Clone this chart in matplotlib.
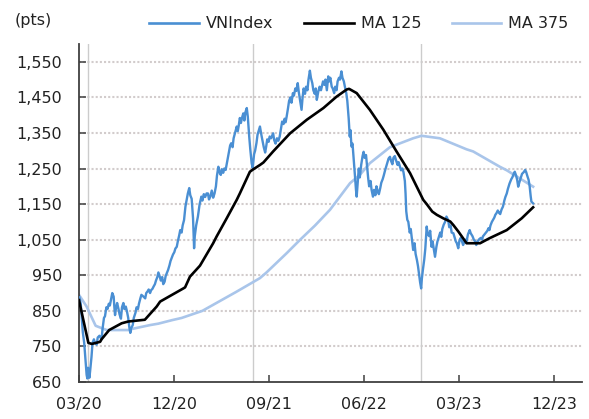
import matplotlib
matplotlib.use("Agg")
import matplotlib.pyplot as plt
import pandas as pd
from matplotlib.ticker import FuncFormatter, FixedLocator
from matplotlib.lines import Line2D

plt.rcParams['font.family'] = ['DejaVu Sans']

# ---------------- data ----------------
vnindex = [
    ("2020-03-02", 888), ("2020-03-06", 870), ("2020-03-09", 830), ("2020-03-12", 790),
    ("2020-03-16", 760), ("2020-03-19", 720), ("2020-03-23", 670), ("2020-03-25", 660),
    ("2020-03-27", 690), ("2020-03-31", 662), ("2020-04-02", 680), ("2020-04-06", 720),
    ("2020-04-09", 760), ("2020-04-13", 770), ("2020-04-16", 760), ("2020-04-21", 755),
    ("2020-04-24", 775), ("2020-04-29", 780), ("2020-05-05", 770), ("2020-05-08", 800),
    ("2020-05-12", 830), ("2020-05-15", 835), ("2020-05-19", 860), ("2020-05-22", 855),
    ("2020-05-26", 870), ("2020-05-29", 865), ("2020-06-02", 885), ("2020-06-05", 900),
    ("2020-06-09", 890), ("2020-06-11", 860), ("2020-06-13", 838), ("2020-06-16", 860),
    ("2020-06-19", 872), ("2020-06-23", 855), ("2020-06-26", 840), ("2020-06-30", 828),
    ("2020-07-03", 860), ("2020-07-07", 872), ("2020-07-10", 855), ("2020-07-14", 862),
    ("2020-07-17", 850), ("2020-07-21", 830), ("2020-07-24", 805), ("2020-07-27", 788),
    ("2020-07-29", 800), ("2020-08-03", 810), ("2020-08-06", 830), ("2020-08-11", 845),
    ("2020-08-14", 860), ("2020-08-18", 855), ("2020-08-21", 870), ("2020-08-25", 885),
    ("2020-08-28", 895), ("2020-09-03", 890), ("2020-09-08", 885), ("2020-09-11", 900),
    ("2020-09-15", 905), ("2020-09-18", 910), ("2020-09-22", 900), ("2020-09-25", 908),
    ("2020-09-29", 912), ("2020-10-02", 918), ("2020-10-06", 925), ("2020-10-09", 935),
    ("2020-10-13", 945), ("2020-10-16", 958), ("2020-10-20", 946), ("2020-10-23", 935),
    ("2020-10-27", 945), ("2020-10-30", 925), ("2020-11-03", 932), ("2020-11-06", 948),
    ("2020-11-10", 958), ("2020-11-13", 965), ("2020-11-17", 978), ("2020-11-20", 990),
    ("2020-11-24", 1000), ("2020-11-27", 1008), ("2020-12-01", 1015), ("2020-12-04", 1025),
    ("2020-12-08", 1030), ("2020-12-11", 1045), ("2020-12-15", 1062), ("2020-12-18", 1077),
    ("2020-12-22", 1070), ("2020-12-25", 1090), ("2020-12-29", 1105), ("2021-01-02", 1143),
    ("2021-01-06", 1165), ("2021-01-09", 1180), ("2021-01-13", 1195), ("2021-01-16", 1175),
    ("2021-01-20", 1165), ("2021-01-24", 1110), ("2021-01-27", 1026), ("2021-01-29", 1060),
    ("2021-02-02", 1090), ("2021-02-07", 1115), ("2021-02-12", 1150), ("2021-02-17", 1171),
    ("2021-02-20", 1160), ("2021-02-24", 1178), ("2021-02-28", 1170), ("2021-03-04", 1180),
    ("2021-03-08", 1180), ("2021-03-11", 1163), ("2021-03-15", 1172), ("2021-03-19", 1188),
    ("2021-03-23", 1168), ("2021-03-27", 1180), ("2021-03-31", 1200), ("2021-04-03", 1230),
    ("2021-04-07", 1255), ("2021-04-10", 1240), ("2021-04-14", 1232), ("2021-04-17", 1248),
    ("2021-04-21", 1238), ("2021-04-24", 1250), ("2021-04-28", 1246), ("2021-05-01", 1262),
    ("2021-05-05", 1285), ("2021-05-08", 1300), ("2021-05-11", 1315), ("2021-05-14", 1321),
    ("2021-05-18", 1310), ("2021-05-21", 1335), ("2021-05-25", 1350), ("2021-05-30", 1368),
    ("2021-06-02", 1355), ("2021-06-05", 1372), ("2021-06-08", 1392), ("2021-06-11", 1378),
    ("2021-06-15", 1395), ("2021-06-18", 1405), ("2021-06-21", 1385), ("2021-06-24", 1408),
    ("2021-06-28", 1420), ("2021-07-01", 1395), ("2021-07-05", 1340), ("2021-07-08", 1305),
    ("2021-07-12", 1265), ("2021-07-15", 1252), ("2021-07-19", 1290), ("2021-07-22", 1300),
    ("2021-07-26", 1322), ("2021-07-29", 1345), ("2021-08-02", 1358), ("2021-08-05", 1368),
    ("2021-08-09", 1345), ("2021-08-12", 1330), ("2021-08-16", 1310), ("2021-08-20", 1295),
    ("2021-08-23", 1312), ("2021-08-26", 1332), ("2021-08-30", 1325), ("2021-09-02", 1340),
    ("2021-09-06", 1335), ("2021-09-12", 1349), ("2021-09-15", 1330), ("2021-09-19", 1320),
    ("2021-09-23", 1335), ("2021-09-27", 1328), ("2021-10-01", 1340), ("2021-10-05", 1365),
    ("2021-10-08", 1382), ("2021-10-12", 1375), ("2021-10-15", 1390), ("2021-10-18", 1380),
    ("2021-10-21", 1396), ("2021-10-25", 1420), ("2021-10-28", 1440), ("2021-11-01", 1450),
    ("2021-11-04", 1435), ("2021-11-08", 1462), ("2021-11-11", 1455), ("2021-11-15", 1475),
    ("2021-11-18", 1468), ("2021-11-22", 1490), ("2021-11-25", 1465), ("2021-11-29", 1440),
    ("2021-12-03", 1415), ("2021-12-06", 1450), ("2021-12-09", 1475), ("2021-12-13", 1460),
    ("2021-12-16", 1480), ("2021-12-20", 1470), ("2021-12-23", 1500), ("2021-12-27", 1525),
    ("2021-12-30", 1505), ("2022-01-03", 1490), ("2022-01-06", 1470), ("2022-01-10", 1460),
    ("2022-01-13", 1475), ("2022-01-16", 1443), ("2022-01-20", 1465), ("2022-01-24", 1480),
    ("2022-01-28", 1470), ("2022-02-03", 1495), ("2022-02-07", 1485), ("2022-02-10", 1500),
    ("2022-02-14", 1470), ("2022-02-18", 1509), ("2022-02-21", 1495), ("2022-02-24", 1505),
    ("2022-02-28", 1480), ("2022-03-03", 1475), ("2022-03-07", 1462), ("2022-03-10", 1480),
    ("2022-03-14", 1470), ("2022-03-17", 1495), ("2022-03-21", 1505), ("2022-03-24", 1500),
    ("2022-03-28", 1523), ("2022-03-31", 1505), ("2022-04-04", 1495), ("2022-04-07", 1480),
    ("2022-04-11", 1462), ("2022-04-14", 1440), ("2022-04-18", 1390), ("2022-04-21", 1340),
    ("2022-04-23", 1358), ("2022-04-26", 1312), ("2022-04-29", 1320), ("2022-05-03", 1270),
    ("2022-05-06", 1230), ("2022-05-09", 1190), ("2022-05-11", 1171), ("2022-05-14", 1210),
    ("2022-05-17", 1250), ("2022-05-20", 1225), ("2022-05-24", 1260), ("2022-05-28", 1285),
    ("2022-05-31", 1297), ("2022-06-03", 1280), ("2022-06-07", 1288), ("2022-06-10", 1255),
    ("2022-06-13", 1225), ("2022-06-16", 1200), ("2022-06-20", 1215), ("2022-06-23", 1190),
    ("2022-06-27", 1171), ("2022-06-30", 1190), ("2022-07-04", 1175), ("2022-07-07", 1200),
    ("2022-07-11", 1185), ("2022-07-14", 1178), ("2022-07-18", 1195), ("2022-07-21", 1210),
    ("2022-07-25", 1220), ("2022-07-28", 1230), ("2022-08-01", 1245), ("2022-08-04", 1255),
    ("2022-08-08", 1268), ("2022-08-11", 1278), ("2022-08-15", 1283), ("2022-08-18", 1272),
    ("2022-08-22", 1262), ("2022-08-25", 1280), ("2022-08-29", 1285), ("2022-09-01", 1275),
    ("2022-09-06", 1260), ("2022-09-09", 1268), ("2022-09-13", 1255), ("2022-09-16", 1245),
    ("2022-09-20", 1250), ("2022-09-23", 1240), ("2022-09-27", 1215), ("2022-09-29", 1180),
    ("2022-10-01", 1130), ("2022-10-04", 1106), ("2022-10-07", 1100), ("2022-10-11", 1070),
    ("2022-10-14", 1080), ("2022-10-18", 1045), ("2022-10-21", 1021), ("2022-10-25", 1040),
    ("2022-10-28", 1010), ("2022-11-01", 992), ("2022-11-04", 975), ("2022-11-08", 946),
    ("2022-11-10", 930), ("2022-11-13", 913), ("2022-11-15", 940), ("2022-11-18", 965),
    ("2022-11-22", 995), ("2022-11-25", 1025), ("2022-11-29", 1087), ("2022-12-02", 1065),
    ("2022-12-06", 1060), ("2022-12-09", 1075), ("2022-12-13", 1030), ("2022-12-16", 1045),
    ("2022-12-20", 1020), ("2022-12-23", 1002), ("2022-12-27", 1030), ("2022-12-30", 1045),
    ("2023-01-04", 1060), ("2023-01-07", 1070), ("2023-01-10", 1058), ("2023-01-13", 1080),
    ("2023-01-17", 1092), ("2023-01-21", 1100), ("2023-01-25", 1115), ("2023-01-30", 1105),
    ("2023-02-02", 1085), ("2023-02-06", 1090), ("2023-02-09", 1070), ("2023-02-14", 1068),
    ("2023-02-17", 1058), ("2023-02-21", 1045), ("2023-02-24", 1040), ("2023-02-28", 1026),
    ("2023-03-03", 1045), ("2023-03-07", 1055), ("2023-03-10", 1048), ("2023-03-14", 1035),
    ("2023-03-17", 1042), ("2023-03-21", 1050), ("2023-03-24", 1045), ("2023-03-28", 1065),
    ("2023-04-02", 1077), ("2023-04-05", 1068), ("2023-04-10", 1060), ("2023-04-14", 1050),
    ("2023-04-18", 1045), ("2023-04-21", 1035), ("2023-04-25", 1045), ("2023-04-28", 1050),
    ("2023-05-04", 1055), ("2023-05-08", 1050), ("2023-05-10", 1059), ("2023-05-15", 1065),
    ("2023-05-19", 1070), ("2023-05-23", 1075), ("2023-05-26", 1082), ("2023-05-29", 1077),
    ("2023-06-01", 1090), ("2023-06-05", 1100), ("2023-06-08", 1105), ("2023-06-12", 1112),
    ("2023-06-15", 1120), ("2023-06-18", 1124), ("2023-06-22", 1132), ("2023-06-26", 1125),
    ("2023-06-29", 1122), ("2023-07-03", 1135), ("2023-07-07", 1143), ("2023-07-11", 1160),
    ("2023-07-14", 1170), ("2023-07-18", 1180), ("2023-07-21", 1192), ("2023-07-26", 1208),
    ("2023-07-31", 1220), ("2023-08-03", 1225), ("2023-08-07", 1235), ("2023-08-10", 1241),
    ("2023-08-14", 1230), ("2023-08-17", 1218), ("2023-08-20", 1199), ("2023-08-23", 1210),
    ("2023-08-28", 1225), ("2023-08-31", 1235), ("2023-09-05", 1240), ("2023-09-09", 1246),
    ("2023-09-12", 1240), ("2023-09-15", 1230), ("2023-09-19", 1218), ("2023-09-22", 1200),
    ("2023-09-25", 1172), ("2023-09-27", 1157), ("2023-10-02", 1152),
]

ma125 = [
    ("2020-03-01", 880), ("2020-03-28", 760), ("2020-04-07", 757), ("2020-05-01", 763),
    ("2020-05-05", 770), ("2020-05-27", 796), ("2020-07-02", 815), ("2020-07-21", 820),
    ("2020-09-07", 825), ("2020-10-11", 862), ("2020-10-21", 876), ("2020-11-28", 897),
    ("2020-12-27", 913), ("2021-01-01", 916), ("2021-01-15", 946), ("2021-02-13", 977),
    ("2021-03-23", 1040), ("2021-04-02", 1059), ("2021-05-01", 1110), ("2021-05-30", 1162),
    ("2021-06-08", 1180), ("2021-07-07", 1241), ("2021-07-17", 1248), ("2021-08-05", 1260),
    ("2021-08-15", 1267), ("2021-09-12", 1298), ("2021-10-31", 1349), ("2021-12-18", 1387),
    ("2022-02-04", 1420), ("2022-03-14", 1452), ("2022-04-12", 1472), ("2022-04-19", 1474),
    ("2022-05-11", 1462), ("2022-06-18", 1415), ("2022-07-27", 1359), ("2022-09-03", 1298),
    ("2022-10-12", 1237), ("2022-11-19", 1162), ("2022-11-29", 1150), ("2022-12-15", 1129),
    ("2022-12-28", 1120), ("2023-01-16", 1110), ("2023-02-05", 1101), ("2023-02-14", 1091),
    ("2023-03-01", 1072), ("2023-03-14", 1054), ("2023-03-24", 1040), ("2023-05-02", 1040),
    ("2023-05-29", 1054), ("2023-07-18", 1077), ("2023-08-30", 1110), ("2023-10-02", 1141),
]

ma375 = [
    ("2020-03-01", 895), ("2020-03-23", 862), ("2020-04-18", 808), ("2020-05-20", 796),
    ("2020-07-21", 796), ("2020-08-05", 800), ("2020-09-22", 810), ("2020-10-16", 814),
    ("2020-11-25", 824), ("2020-12-22", 830), ("2021-02-20", 850), ("2021-05-28", 903),
    ("2021-08-05", 942), ("2021-08-24", 958), ("2021-10-21", 1012), ("2021-11-28", 1049),
    ("2022-01-11", 1090), ("2022-02-23", 1134), ("2022-04-22", 1209), ("2022-05-20", 1232),
    ("2022-06-18", 1265), ("2022-08-15", 1310), ("2022-10-21", 1335), ("2022-11-14", 1342),
    ("2023-01-06", 1335), ("2023-03-24", 1304), ("2023-04-12", 1298), ("2023-06-28", 1255),
    ("2023-07-18", 1245), ("2023-10-02", 1199),
]

event_dates = ["2020-03-26", "2021-07-16", "2022-11-14"]

y_ticks = [650, 750, 850, 950, 1050, 1150, 1250, 1350, 1450, 1550]
y_limits = (650, 1600)
x_tick_dates = ["2020-03-01", "2020-12-01", "2021-09-01", "2022-06-01", "2023-03-01", "2023-12-01"]
x_tick_labels = ["03/20", "12/20", "09/21", "06/22", "03/23", "12/23"]
x_limits = ("2020-03-01", "2024-02-20")

series_names = ["VNIndex", "MA 125", "MA 375"]
unit_label = "(pts)"

# ---------------- styling ----------------
c_vn = "#4a8fd3"
c_ma125 = "#000000"
c_ma375 = "#a9c5ea"
c_axis = "#404040"
c_grid = "#d2cccc"
c_event = "#cccccc"
fs = 11.5


def unzip(pairs):
    d = pd.to_datetime([p[0] for p in pairs])
    v = [p[1] for p in pairs]
    return d, v


vn_d, vn_v = unzip(vnindex)
m1_d, m1_v = unzip(ma125)
m3_d, m3_v = unzip(ma375)

fig = plt.figure(figsize=(5.89, 4.19), dpi=100)
ax = fig.add_axes([79 / 589, 37 / 419, 503 / 589, 338 / 419])

ax.set_ylim(*y_limits)
ax.set_xlim(pd.Timestamp(x_limits[0]), pd.Timestamp(x_limits[1]))

# grid
for yv in y_ticks[1:]:
    ax.axhline(yv, color=c_grid, lw=1.5, ls=(0, (1, 1)), zorder=1)

# vertical event lines
for ed in event_dates:
    ax.axvline(pd.Timestamp(ed), color=c_event, lw=1.0, zorder=1.5)

ax.plot(m3_d, m3_v, color=c_ma375, lw=1.9, zorder=2, solid_joinstyle="round")
ax.plot(vn_d, vn_v, color=c_vn, lw=1.7, zorder=3, solid_joinstyle="round")
ax.plot(m1_d, m1_v, color=c_ma125, lw=1.9, zorder=4, solid_joinstyle="round")

ax.yaxis.set_major_locator(FixedLocator(y_ticks))
ax.yaxis.set_major_formatter(FuncFormatter(lambda v, p: f"{int(v):,}"))
ax.set_xticks(pd.to_datetime(x_tick_dates))
ax.set_xticklabels(x_tick_labels)

for s in ["top", "right"]:
    ax.spines[s].set_visible(False)
for s in ["left", "bottom"]:
    ax.spines[s].set_color(c_axis)
    ax.spines[s].set_linewidth(1.3)

ax.tick_params(axis="both", direction="in", length=5, width=1.1, color=c_axis,
               labelsize=fs, labelcolor="#222222")
ax.tick_params(axis="y", pad=12)
ax.tick_params(axis="x", pad=11)

fig.text(15 / 589, 1 - 21 / 419, unit_label, ha="left", va="center",
         fontsize=fs, color="#222222")

handles = [
    Line2D([], [], color=c_vn, lw=1.9),
    Line2D([], [], color=c_ma125, lw=1.9),
    Line2D([], [], color=c_ma375, lw=1.9),
]
fig.legend(handles, series_names, loc="center", ncol=3, frameon=False,
           bbox_to_anchor=(359 / 589, 1 - 24 / 419), fontsize=fs,
           handlelength=3.1, handletextpad=0.45, columnspacing=1.9,
           borderpad=0, borderaxespad=0, labelcolor="#222222")

fig.savefig("out.png", dpi=100)
